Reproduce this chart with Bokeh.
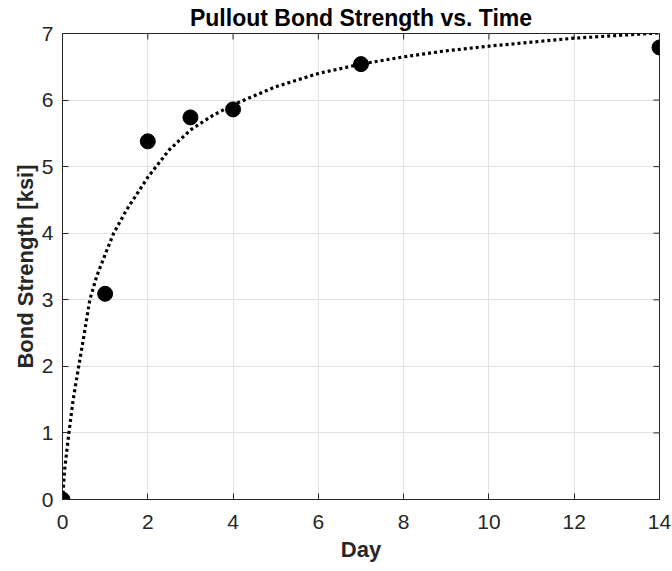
import math
from bokeh.plotting import figure
from bokeh.models import Range1d, FixedTicker, ColumnDataSource
from bokeh.embed import file_html
from bokeh.resources import INLINE

# measured data points
days = [0, 1, 2, 3, 4, 7, 14]
strength = [0.0, 3.09, 5.38, 5.74, 5.86, 6.54, 6.79]

# fitted curve
fit_days = [0, 0.05, 0.15, 0.25, 0.38, 0.5, 0.64, 0.8, 1.0, 1.2, 1.5, 2.0, 2.5,
            3.0, 3.5, 4.0, 5.0, 6.0, 7.0, 8.0, 9.0, 10.0, 11.0, 12.0, 13.0, 14.0]
fit_strength = [0.0, 0.45, 1.0, 1.5, 2.0, 2.45, 3.0, 3.35, 3.68, 4.0, 4.35, 4.84, 5.25,
                5.55, 5.76, 5.93, 6.2, 6.4, 6.54, 6.65, 6.74, 6.81, 6.87, 6.93, 6.97, 7.01]

x_ticks = [0, 2, 4, 6, 8, 10, 12, 14]
y_ticks = [0, 1, 2, 3, 4, 5, 6, 7]
x_min, x_max = 0, 14
y_min, y_max = 0, 7

title_text = "Pullout Bond Strength vs. Time"
x_label = "Day"
y_label = "Bond Strength [ksi]"

FONT = "Liberation Sans"
AX = "#262626"

p = figure(width=672, height=571, output_backend="svg", toolbar_location=None,
           x_range=Range1d(x_min, x_max), y_range=Range1d(y_min, y_max),
           min_border_left=62, min_border_right=13, min_border_top=33, min_border_bottom=72,
           background_fill_color="white", border_fill_color="white")

p.title.text = title_text
p.title.text_font = FONT
p.title.text_font_size = "23px"
p.title.text_font_style = "bold"
p.title.text_color = "black"
p.title.align = "center"
p.title.standoff = 5
p.title.offset = 0

p.outline_line_color = AX
p.outline_line_width = 1

for ax, ticks in ((p.xaxis[0], x_ticks), (p.yaxis[0], y_ticks)):
    ax.ticker = FixedTicker(ticks=ticks)
    ax.major_tick_in = 6
    ax.major_tick_out = 0
    ax.minor_tick_in = 0
    ax.minor_tick_out = 0
    ax.axis_line_color = AX
    ax.major_tick_line_color = AX
    ax.major_label_text_font = FONT
    ax.major_label_text_font_size = "21px"
    ax.major_label_text_color = AX
    ax.axis_label_text_font = FONT
    ax.axis_label_text_font_size = "22px"
    ax.axis_label_text_font_style = "bold"
    ax.axis_label_text_color = AX

p.xaxis[0].axis_label = x_label
p.xaxis[0].major_label_standoff = 15
p.xaxis[0].axis_label_standoff = 5
p.yaxis[0].axis_label = y_label
p.yaxis[0].major_label_standoff = 9
p.yaxis[0].axis_label_standoff = 1

p.xgrid.ticker = FixedTicker(ticks=x_ticks)
p.ygrid.ticker = FixedTicker(ticks=y_ticks)
p.xgrid.grid_line_color = "#e2e2e2"
p.ygrid.grid_line_color = "#e2e2e2"
p.xgrid.grid_line_width = 1
p.ygrid.grid_line_width = 1

# inward ticks on the top and right edges of the box (half of each dash lies outside and is clipped)
top_src = ColumnDataSource(dict(x=x_ticks, y=[y_max] * len(x_ticks)))
p.scatter("x", "y", source=top_src, marker="dash", size=12, angle=math.pi / 2,
          line_color=AX, line_width=1)
right_src = ColumnDataSource(dict(x=[x_max] * len(y_ticks), y=y_ticks))
p.scatter("x", "y", source=right_src, marker="dash", size=12, angle=0,
          line_color=AX, line_width=1)

fit_src = ColumnDataSource(dict(x=fit_days, y=fit_strength))
p.line("x", "y", source=fit_src, line_color="black", line_width=3.2,
       line_dash="3 3", line_cap="butt", line_join="round")

pts = ColumnDataSource(dict(x=days, y=strength))
p.scatter("x", "y", source=pts, size=15, fill_color="black", line_color="black")

open("out.html", "w").write(file_html(p, INLINE))
